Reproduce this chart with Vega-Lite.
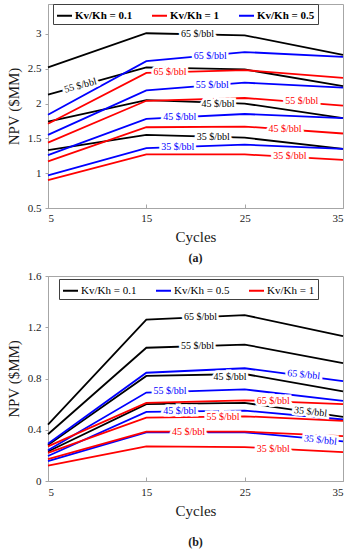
{
  "$schema": "https://vega.github.io/schema/vega-lite/v6.json",
  "background": "white",
  "padding": {"left": 5, "top": 3, "right": 8, "bottom": 2},
  "spacing": 4,
  "config": {
    "font": "Liberation Serif, Times New Roman, serif",
    "view": {"stroke": "#a6a6a6", "strokeWidth": 1},
    "axis": {
      "grid": false,
      "domainColor": "#a6a6a6",
      "tickColor": "#a6a6a6",
      "labelFont": "Liberation Serif, Times New Roman, serif",
      "labelFontSize": 11,
      "labelColor": "#1a1a1a",
      "titleFont": "Liberation Serif, Times New Roman, serif",
      "titleFontSize": 15,
      "titleFontWeight": "normal",
      "titleColor": "#1a1a1a"
    },
    "legend": {"labelFont": "Liberation Serif, Times New Roman, serif"},
    "text": {"font": "Liberation Serif, Times New Roman, serif"},
    "title": {"font": "Liberation Serif, Times New Roman, serif", "fontSize": 12, "fontWeight": "bold", "color": "#1a1a1a"}
  },
  "resolve": {"scale": {"color": "independent"}, "legend": {"color": "independent"}},
  "datasets": {
    "lines": [
      {"p": "a", "kv": "Kv/Kh = 0.1", "price": 65, "cycles": 5, "npv": 2.52},
      {"p": "a", "kv": "Kv/Kh = 0.1", "price": 65, "cycles": 15, "npv": 3.01},
      {"p": "a", "kv": "Kv/Kh = 0.1", "price": 65, "cycles": 25, "npv": 2.98},
      {"p": "a", "kv": "Kv/Kh = 0.1", "price": 65, "cycles": 35, "npv": 2.7},
      {"p": "a", "kv": "Kv/Kh = 0.1", "price": 55, "cycles": 5, "npv": 2.13},
      {"p": "a", "kv": "Kv/Kh = 0.1", "price": 55, "cycles": 15, "npv": 2.52},
      {"p": "a", "kv": "Kv/Kh = 0.1", "price": 55, "cycles": 25, "npv": 2.49},
      {"p": "a", "kv": "Kv/Kh = 0.1", "price": 55, "cycles": 35, "npv": 2.25},
      {"p": "a", "kv": "Kv/Kh = 0.1", "price": 45, "cycles": 5, "npv": 1.74},
      {"p": "a", "kv": "Kv/Kh = 0.1", "price": 45, "cycles": 15, "npv": 2.05},
      {"p": "a", "kv": "Kv/Kh = 0.1", "price": 45, "cycles": 25, "npv": 2.0},
      {"p": "a", "kv": "Kv/Kh = 0.1", "price": 45, "cycles": 35, "npv": 1.79},
      {"p": "a", "kv": "Kv/Kh = 0.1", "price": 35, "cycles": 5, "npv": 1.33},
      {"p": "a", "kv": "Kv/Kh = 0.1", "price": 35, "cycles": 15, "npv": 1.55},
      {"p": "a", "kv": "Kv/Kh = 0.1", "price": 35, "cycles": 25, "npv": 1.51},
      {"p": "a", "kv": "Kv/Kh = 0.1", "price": 35, "cycles": 35, "npv": 1.35},
      {"p": "a", "kv": "Kv/Kh = 0.5", "price": 65, "cycles": 5, "npv": 1.84},
      {"p": "a", "kv": "Kv/Kh = 0.5", "price": 65, "cycles": 15, "npv": 2.61},
      {"p": "a", "kv": "Kv/Kh = 0.5", "price": 65, "cycles": 25, "npv": 2.74},
      {"p": "a", "kv": "Kv/Kh = 0.5", "price": 65, "cycles": 35, "npv": 2.67},
      {"p": "a", "kv": "Kv/Kh = 0.5", "price": 55, "cycles": 5, "npv": 1.55},
      {"p": "a", "kv": "Kv/Kh = 0.5", "price": 55, "cycles": 15, "npv": 2.19},
      {"p": "a", "kv": "Kv/Kh = 0.5", "price": 55, "cycles": 25, "npv": 2.3},
      {"p": "a", "kv": "Kv/Kh = 0.5", "price": 55, "cycles": 35, "npv": 2.23},
      {"p": "a", "kv": "Kv/Kh = 0.5", "price": 45, "cycles": 5, "npv": 1.26},
      {"p": "a", "kv": "Kv/Kh = 0.5", "price": 45, "cycles": 15, "npv": 1.78},
      {"p": "a", "kv": "Kv/Kh = 0.5", "price": 45, "cycles": 25, "npv": 1.85},
      {"p": "a", "kv": "Kv/Kh = 0.5", "price": 45, "cycles": 35, "npv": 1.79},
      {"p": "a", "kv": "Kv/Kh = 0.5", "price": 35, "cycles": 5, "npv": 0.97},
      {"p": "a", "kv": "Kv/Kh = 0.5", "price": 35, "cycles": 15, "npv": 1.36},
      {"p": "a", "kv": "Kv/Kh = 0.5", "price": 35, "cycles": 25, "npv": 1.41},
      {"p": "a", "kv": "Kv/Kh = 0.5", "price": 35, "cycles": 35, "npv": 1.35},
      {"p": "a", "kv": "Kv/Kh = 1", "price": 65, "cycles": 5, "npv": 1.71},
      {"p": "a", "kv": "Kv/Kh = 1", "price": 65, "cycles": 15, "npv": 2.44},
      {"p": "a", "kv": "Kv/Kh = 1", "price": 65, "cycles": 25, "npv": 2.48},
      {"p": "a", "kv": "Kv/Kh = 1", "price": 65, "cycles": 35, "npv": 2.37},
      {"p": "a", "kv": "Kv/Kh = 1", "price": 55, "cycles": 5, "npv": 1.44},
      {"p": "a", "kv": "Kv/Kh = 1", "price": 55, "cycles": 15, "npv": 2.04},
      {"p": "a", "kv": "Kv/Kh = 1", "price": 55, "cycles": 25, "npv": 2.08},
      {"p": "a", "kv": "Kv/Kh = 1", "price": 55, "cycles": 35, "npv": 1.97},
      {"p": "a", "kv": "Kv/Kh = 1", "price": 45, "cycles": 5, "npv": 1.17},
      {"p": "a", "kv": "Kv/Kh = 1", "price": 45, "cycles": 15, "npv": 1.66},
      {"p": "a", "kv": "Kv/Kh = 1", "price": 45, "cycles": 25, "npv": 1.67},
      {"p": "a", "kv": "Kv/Kh = 1", "price": 45, "cycles": 35, "npv": 1.57},
      {"p": "a", "kv": "Kv/Kh = 1", "price": 35, "cycles": 5, "npv": 0.9},
      {"p": "a", "kv": "Kv/Kh = 1", "price": 35, "cycles": 15, "npv": 1.27},
      {"p": "a", "kv": "Kv/Kh = 1", "price": 35, "cycles": 25, "npv": 1.27},
      {"p": "a", "kv": "Kv/Kh = 1", "price": 35, "cycles": 35, "npv": 1.19},
      {"p": "b", "kv": "Kv/Kh = 0.1", "price": 65, "cycles": 5, "npv": 0.44},
      {"p": "b", "kv": "Kv/Kh = 0.1", "price": 65, "cycles": 15, "npv": 1.26},
      {"p": "b", "kv": "Kv/Kh = 0.1", "price": 65, "cycles": 25, "npv": 1.295},
      {"p": "b", "kv": "Kv/Kh = 0.1", "price": 65, "cycles": 35, "npv": 1.13},
      {"p": "b", "kv": "Kv/Kh = 0.1", "price": 55, "cycles": 5, "npv": 0.365},
      {"p": "b", "kv": "Kv/Kh = 0.1", "price": 55, "cycles": 15, "npv": 1.04},
      {"p": "b", "kv": "Kv/Kh = 0.1", "price": 55, "cycles": 25, "npv": 1.065},
      {"p": "b", "kv": "Kv/Kh = 0.1", "price": 55, "cycles": 35, "npv": 0.92},
      {"p": "b", "kv": "Kv/Kh = 0.1", "price": 45, "cycles": 5, "npv": 0.28},
      {"p": "b", "kv": "Kv/Kh = 0.1", "price": 45, "cycles": 15, "npv": 0.82},
      {"p": "b", "kv": "Kv/Kh = 0.1", "price": 45, "cycles": 25, "npv": 0.835},
      {"p": "b", "kv": "Kv/Kh = 0.1", "price": 45, "cycles": 35, "npv": 0.7},
      {"p": "b", "kv": "Kv/Kh = 0.1", "price": 35, "cycles": 5, "npv": 0.23},
      {"p": "b", "kv": "Kv/Kh = 0.1", "price": 35, "cycles": 15, "npv": 0.6},
      {"p": "b", "kv": "Kv/Kh = 0.1", "price": 35, "cycles": 25, "npv": 0.61},
      {"p": "b", "kv": "Kv/Kh = 0.1", "price": 35, "cycles": 35, "npv": 0.5},
      {"p": "b", "kv": "Kv/Kh = 0.5", "price": 65, "cycles": 5, "npv": 0.29},
      {"p": "b", "kv": "Kv/Kh = 0.5", "price": 65, "cycles": 15, "npv": 0.845},
      {"p": "b", "kv": "Kv/Kh = 0.5", "price": 65, "cycles": 25, "npv": 0.88},
      {"p": "b", "kv": "Kv/Kh = 0.5", "price": 65, "cycles": 35, "npv": 0.78},
      {"p": "b", "kv": "Kv/Kh = 0.5", "price": 55, "cycles": 5, "npv": 0.24},
      {"p": "b", "kv": "Kv/Kh = 0.5", "price": 55, "cycles": 15, "npv": 0.69},
      {"p": "b", "kv": "Kv/Kh = 0.5", "price": 55, "cycles": 25, "npv": 0.715},
      {"p": "b", "kv": "Kv/Kh = 0.5", "price": 55, "cycles": 35, "npv": 0.625},
      {"p": "b", "kv": "Kv/Kh = 0.5", "price": 45, "cycles": 5, "npv": 0.195},
      {"p": "b", "kv": "Kv/Kh = 0.5", "price": 45, "cycles": 15, "npv": 0.54},
      {"p": "b", "kv": "Kv/Kh = 0.5", "price": 45, "cycles": 25, "npv": 0.55},
      {"p": "b", "kv": "Kv/Kh = 0.5", "price": 45, "cycles": 35, "npv": 0.48},
      {"p": "b", "kv": "Kv/Kh = 0.5", "price": 35, "cycles": 5, "npv": 0.155},
      {"p": "b", "kv": "Kv/Kh = 0.5", "price": 35, "cycles": 15, "npv": 0.38},
      {"p": "b", "kv": "Kv/Kh = 0.5", "price": 35, "cycles": 25, "npv": 0.38},
      {"p": "b", "kv": "Kv/Kh = 0.5", "price": 35, "cycles": 35, "npv": 0.31},
      {"p": "b", "kv": "Kv/Kh = 1", "price": 65, "cycles": 5, "npv": 0.27},
      {"p": "b", "kv": "Kv/Kh = 1", "price": 65, "cycles": 15, "npv": 0.61},
      {"p": "b", "kv": "Kv/Kh = 1", "price": 65, "cycles": 25, "npv": 0.63},
      {"p": "b", "kv": "Kv/Kh = 1", "price": 65, "cycles": 35, "npv": 0.6},
      {"p": "b", "kv": "Kv/Kh = 1", "price": 55, "cycles": 5, "npv": 0.22},
      {"p": "b", "kv": "Kv/Kh = 1", "price": 55, "cycles": 15, "npv": 0.495},
      {"p": "b", "kv": "Kv/Kh = 1", "price": 55, "cycles": 25, "npv": 0.505},
      {"p": "b", "kv": "Kv/Kh = 1", "price": 55, "cycles": 35, "npv": 0.47},
      {"p": "b", "kv": "Kv/Kh = 1", "price": 45, "cycles": 5, "npv": 0.17},
      {"p": "b", "kv": "Kv/Kh = 1", "price": 45, "cycles": 15, "npv": 0.385},
      {"p": "b", "kv": "Kv/Kh = 1", "price": 45, "cycles": 25, "npv": 0.385},
      {"p": "b", "kv": "Kv/Kh = 1", "price": 45, "cycles": 35, "npv": 0.35},
      {"p": "b", "kv": "Kv/Kh = 1", "price": 35, "cycles": 5, "npv": 0.12},
      {"p": "b", "kv": "Kv/Kh = 1", "price": 35, "cycles": 15, "npv": 0.27},
      {"p": "b", "kv": "Kv/Kh = 1", "price": 35, "cycles": 25, "npv": 0.265},
      {"p": "b", "kv": "Kv/Kh = 1", "price": 35, "cycles": 35, "npv": 0.225}
    ],
    "labels": [
      {"p": "a", "kv": "Kv/Kh = 0.1", "price": 65, "cycles": 20.2, "npv": 2.995, "text": "65 $/bbl"},
      {"p": "a", "kv": "Kv/Kh = 0.1", "price": 55, "cycles": 8.3, "npv": 2.26, "text": "55 $/bbl"},
      {"p": "a", "kv": "Kv/Kh = 0.5", "price": 65, "cycles": 21.5, "npv": 2.68, "text": "65 $/bbl"},
      {"p": "a", "kv": "Kv/Kh = 1", "price": 65, "cycles": 17.4, "npv": 2.45, "text": "65 $/bbl"},
      {"p": "a", "kv": "Kv/Kh = 0.5", "price": 55, "cycles": 21.7, "npv": 2.26, "text": "55 $/bbl"},
      {"p": "a", "kv": "Kv/Kh = 1", "price": 55, "cycles": 30.8, "npv": 2.03, "text": "55 $/bbl"},
      {"p": "a", "kv": "Kv/Kh = 0.1", "price": 45, "cycles": 22.3, "npv": 1.99, "text": "45 $/bbl"},
      {"p": "a", "kv": "Kv/Kh = 0.5", "price": 45, "cycles": 18.4, "npv": 1.8, "text": "45 $/bbl"},
      {"p": "a", "kv": "Kv/Kh = 1", "price": 45, "cycles": 29.1, "npv": 1.63, "text": "45 $/bbl"},
      {"p": "a", "kv": "Kv/Kh = 0.1", "price": 35, "cycles": 21.8, "npv": 1.52, "text": "35 $/bbl"},
      {"p": "a", "kv": "Kv/Kh = 0.5", "price": 35, "cycles": 18.2, "npv": 1.375, "text": "35 $/bbl"},
      {"p": "a", "kv": "Kv/Kh = 1", "price": 35, "cycles": 29.6, "npv": 1.24, "text": "35 $/bbl"},
      {"p": "b", "kv": "Kv/Kh = 0.1", "price": 65, "cycles": 20.5, "npv": 1.28, "text": "65 $/bbl"},
      {"p": "b", "kv": "Kv/Kh = 0.1", "price": 55, "cycles": 20.2, "npv": 1.05, "text": "55 $/bbl"},
      {"p": "b", "kv": "Kv/Kh = 0.1", "price": 45, "cycles": 23.5, "npv": 0.81, "text": "45 $/bbl"},
      {"p": "b", "kv": "Kv/Kh = 0.5", "price": 65, "cycles": 31.0, "npv": 0.83, "text": "65 $/bbl"},
      {"p": "b", "kv": "Kv/Kh = 0.5", "price": 55, "cycles": 17.4, "npv": 0.7, "text": "55 $/bbl"},
      {"p": "b", "kv": "Kv/Kh = 1", "price": 65, "cycles": 27.9, "npv": 0.625, "text": "65 $/bbl"},
      {"p": "b", "kv": "Kv/Kh = 0.1", "price": 35, "cycles": 31.7, "npv": 0.54, "text": "35 $/bbl"},
      {"p": "b", "kv": "Kv/Kh = 0.5", "price": 45, "cycles": 18.4, "npv": 0.545, "text": "45 $/bbl"},
      {"p": "b", "kv": "Kv/Kh = 1", "price": 55, "cycles": 22.8, "npv": 0.5, "text": "55 $/bbl"},
      {"p": "b", "kv": "Kv/Kh = 1", "price": 45, "cycles": 19.3, "npv": 0.385, "text": "45 $/bbl"},
      {"p": "b", "kv": "Kv/Kh = 0.5", "price": 35, "cycles": 32.7, "npv": 0.32, "text": "35 $/bbl"},
      {"p": "b", "kv": "Kv/Kh = 1", "price": 35, "cycles": 27.9, "npv": 0.25, "text": "35 $/bbl"}
    ]
  },
  "vconcat": [
    {
      "width": 295,
      "height": 204,
      "title": {"text": "(a)", "orient": "bottom", "offset": 9, "anchor": "middle"},
      "encoding": {
        "x": {"field": "cycles", "type": "quantitative", "scale": {"domain": [5, 35], "nice": false},
          "axis": {"values": [5, 15, 25, 35], "title": "Cycles", "tickSize": -4, "labelPadding": 8, "titlePadding": 6}},
        "y": {"field": "npv", "type": "quantitative", "scale": {"domain": [0.5, 3.43], "nice": false, "zero": false},
          "axis": {"values": [0.5, 1, 1.5, 2, 2.5, 3], "format": "~g", "title": "NPV ($MM)", "tickSize": 3, "labelPadding": 4, "titlePadding": 6}}
      },
      "layer": [
        {
          "data": {"name": "lines"},
          "transform": [{"filter": "datum.p == 'a'"}],
          "mark": {"type": "line", "strokeWidth": 1.8},
          "encoding": {
            "color": {"field": "kv", "type": "nominal",
              "scale": {"domain": ["Kv/Kh = 0.1", "Kv/Kh = 1", "Kv/Kh = 0.5"], "range": ["#000000", "#ff0000", "#0000ff"]},
              "legend": {"orient": "none", "legendX": 5, "legendY": 0, "direction": "horizontal", "title": null,
                "symbolType": "stroke", "symbolSize": 225, "symbolStrokeWidth": 2, "labelOffset": 2,
                "labelFont": "Liberation Serif, Times New Roman, serif", "labelFontSize": 11, "labelFontWeight": "bold", "labelColor": "#000000",
                "strokeColor": "#404040", "fillColor": "white", "padding": 3, "columnPadding": 15}},
            "detail": {"field": "price", "type": "nominal"}
          }
        },
        {
          "data": {"name": "labels"},
          "transform": [{"filter": "datum.p == 'a' && !(datum.kv == 'Kv/Kh = 0.1' && datum.price == 55)"}],
          "mark": {"type": "text", "font": "Liberation Serif, Times New Roman, serif", "fontSize": 10, "fill": "white", "stroke": "white", "strokeWidth": 5},
          "encoding": {"text": {"field": "text"}}
        },
        {
          "data": {"name": "labels"},
          "transform": [{"filter": "datum.p == 'a' && !(datum.kv == 'Kv/Kh = 0.1' && datum.price == 55)"}],
          "mark": {"type": "text", "font": "Liberation Serif, Times New Roman, serif", "fontSize": 10},
          "encoding": {"text": {"field": "text"}, "color": {"field": "kv", "type": "nominal", "legend": null}}
        },
        {
          "data": {"name": "labels"},
          "transform": [{"filter": "datum.p == 'a' && datum.kv == 'Kv/Kh = 0.1' && datum.price == 55"}],
          "mark": {"type": "text", "font": "Liberation Serif, Times New Roman, serif", "fontSize": 10, "angle": 345, "fill": "white", "stroke": "white", "strokeWidth": 5},
          "encoding": {"text": {"field": "text"}}
        },
        {
          "data": {"name": "labels"},
          "transform": [{"filter": "datum.p == 'a' && datum.kv == 'Kv/Kh = 0.1' && datum.price == 55"}],
          "mark": {"type": "text", "font": "Liberation Serif, Times New Roman, serif", "fontSize": 10, "angle": 345},
          "encoding": {"text": {"field": "text"}, "color": {"field": "kv", "type": "nominal", "legend": null}}
        }
      ]
    },
    {
      "width": 295,
      "height": 205,
      "title": {"text": "(b)", "orient": "bottom", "offset": 19, "anchor": "middle"},
      "encoding": {
        "x": {"field": "cycles", "type": "quantitative", "scale": {"domain": [5, 35], "nice": false},
          "axis": {"values": [5, 15, 25, 35], "title": "Cycles", "tickSize": -4, "labelPadding": 9, "titlePadding": 6}},
        "y": {"field": "npv", "type": "quantitative", "scale": {"domain": [0, 1.6], "nice": false},
          "axis": {"values": [0, 0.4, 0.8, 1.2, 1.6], "format": "~g", "title": "NPV ($MM)", "tickSize": 3, "labelPadding": 4, "titlePadding": 6}}
      },
      "layer": [
        {
          "data": {"name": "lines"},
          "transform": [{"filter": "datum.p == 'b'"}],
          "mark": {"type": "line", "strokeWidth": 1.8},
          "encoding": {
            "color": {"field": "kv", "type": "nominal",
              "scale": {"domain": ["Kv/Kh = 0.1", "Kv/Kh = 0.5", "Kv/Kh = 1"], "range": ["#000000", "#0000ff", "#ff0000"]},
              "legend": {"orient": "none", "legendX": 11, "legendY": 3, "direction": "horizontal", "title": null,
                "symbolType": "stroke", "symbolSize": 225, "symbolStrokeWidth": 2, "labelOffset": 2,
                "labelFont": "Liberation Serif, Times New Roman, serif", "labelFontSize": 11, "labelFontWeight": "normal", "labelColor": "#000000",
                "strokeColor": "#404040", "fillColor": "white", "padding": 3, "columnPadding": 15}},
            "detail": {"field": "price", "type": "nominal"}
          }
        },
        {
          "data": {"name": "labels"},
          "transform": [{"filter": "datum.p == 'b' && !((datum.kv == 'Kv/Kh = 0.5' && (datum.price == 65 || datum.price == 35)) || (datum.kv == 'Kv/Kh = 0.1' && datum.price == 35))"}],
          "mark": {"type": "text", "font": "Liberation Serif, Times New Roman, serif", "fontSize": 10, "fill": "white", "stroke": "white", "strokeWidth": 5},
          "encoding": {"text": {"field": "text"}}
        },
        {
          "data": {"name": "labels"},
          "transform": [{"filter": "datum.p == 'b' && !((datum.kv == 'Kv/Kh = 0.5' && (datum.price == 65 || datum.price == 35)) || (datum.kv == 'Kv/Kh = 0.1' && datum.price == 35))"}],
          "mark": {"type": "text", "font": "Liberation Serif, Times New Roman, serif", "fontSize": 10},
          "encoding": {"text": {"field": "text"}, "color": {"field": "kv", "type": "nominal", "legend": null}}
        },
        {
          "data": {"name": "labels"},
          "transform": [{"filter": "datum.p == 'b' && ((datum.kv == 'Kv/Kh = 0.5' && (datum.price == 65 || datum.price == 35)) || (datum.kv == 'Kv/Kh = 0.1' && datum.price == 35))"}],
          "mark": {"type": "text", "font": "Liberation Serif, Times New Roman, serif", "fontSize": 10, "angle": 6, "fill": "white", "stroke": "white", "strokeWidth": 5},
          "encoding": {"text": {"field": "text"}}
        },
        {
          "data": {"name": "labels"},
          "transform": [{"filter": "datum.p == 'b' && ((datum.kv == 'Kv/Kh = 0.5' && (datum.price == 65 || datum.price == 35)) || (datum.kv == 'Kv/Kh = 0.1' && datum.price == 35))"}],
          "mark": {"type": "text", "font": "Liberation Serif, Times New Roman, serif", "fontSize": 10, "angle": 6},
          "encoding": {"text": {"field": "text"}, "color": {"field": "kv", "type": "nominal", "legend": null}}
        }
      ]
    }
  ]
}
